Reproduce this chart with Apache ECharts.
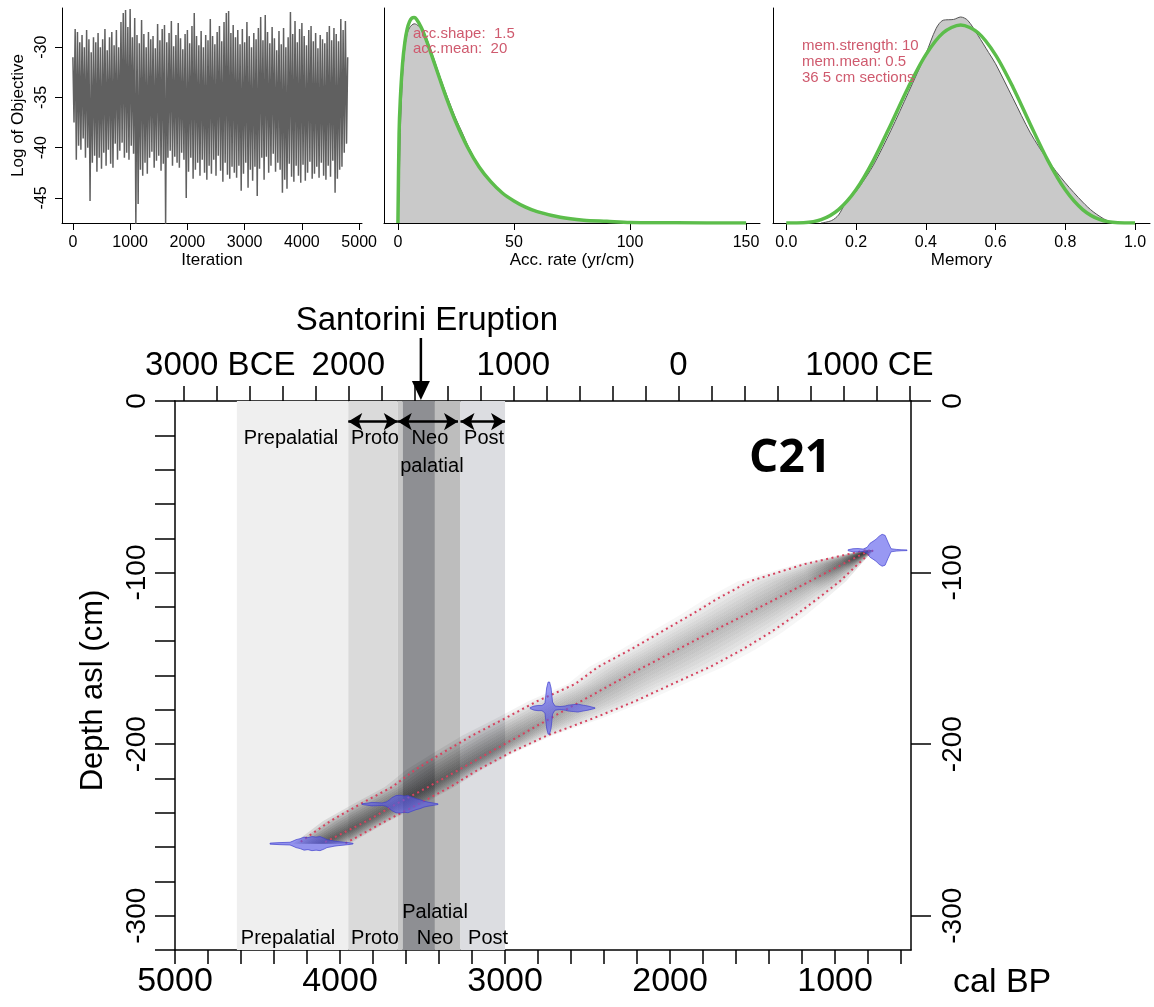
<!DOCTYPE html>
<html>
<head>
<meta charset="utf-8">
<title>C21 age-depth model</title>
<script src="https://cdn.jsdelivr.net/npm/echarts@6/dist/echarts.min.js"></script>
<style>
  html, body { margin: 0; padding: 0; background: #fff; }
  #chart { width: 1154px; height: 1007px; }
</style>
</head>
<body>
<div id="chart"></div>
<script>
const FONT = '"Liberation Sans", Arial, Helvetica, sans-serif';

const traceStep = 40;
const traceHigh = [
  -31, -28.2, -28.5, -29.5, -28.8, -30, -28.3, -29.2, -30.5, -29,
  -29.5, -28.6, -30, -29.2, -28.2, -30.3, -29, -28.5, -29.8, -28.3,
  -30, -27.5, -26.6, -26.3, -28, -26.2, -29, -27.1, -28.8, -29.6,
  -27.3, -28.7, -30, -28.5, -29.2, -28.9, -30.1, -27.7, -29.3, -28.2,
  -27.8, -29.5, -28.6, -27.4, -29.9, -28.8, -27.6, -29.1, -30.2, -28.7,
  -28.3, -29.6, -27.9, -26.6, -28.9, -29.8, -28.4, -30, -28.8, -29.3,
  -27.2, -28.9, -29.7, -28.5, -27.9, -29.4, -27.5, -26.6, -26.4, -28.6,
  -27.8, -29, -28.3, -29.7, -28.2, -29.5, -27.5, -28.9, -30, -28.6,
  -29.2, -28.1, -27, -29.3, -26.8, -28.5, -29.6, -28, -29.1, -30.3,
  -28.4, -29.7, -28.1, -30, -29, -26.5, -28.7, -27.4, -29.5, -28.2,
  -27.6, -28.9, -29.8, -28.3, -27.9, -29.4, -28.6, -30.1, -28.8, -29.2,
  -29.6, -28.5, -27.9, -29.3, -28.1, -28.7, -29.4, -27.2, -28.3, -27.4,
  -31
];
const traceLow = [
  -37.5, -41.2, -39.8, -40.2, -39.1, -41, -40, -45.3, -41.5, -40.8,
  -42.4, -41, -42.1, -40.5, -41.8, -40.2, -41.6, -42, -39.6, -41.2,
  -40.3, -39.5, -41, -40.5, -41.2, -39.8, -40.6, -47.6, -45.6, -42.2,
  -42.8, -41.5, -42.6, -41, -40.4, -42, -41.3, -40.8, -42.3, -41.6,
  -47.6, -41, -40.3, -41.8, -40.9, -41.5, -42, -40.5, -41.2, -45,
  -42.4, -41, -43.1, -42.2, -41.5, -42.8, -41.2, -42.5, -43.2, -41.8,
  -42.6, -41.2, -42.8, -40.8, -42.3, -43.4, -41.5, -42.7, -43.1, -41.9,
  -42.5, -43, -41.8, -44.3, -42.6, -41.5, -44, -42.2, -43.3, -41.9,
  -44.8, -42.1, -41, -43.2, -40.9, -42.5, -41.8, -40.6, -42.4, -41.5,
  -42.2, -44.5, -43.2, -44.1, -41.6, -42.9, -43.4, -41.8, -42.8, -43.5,
  -41.7, -43.3, -42.5, -41.4, -43.1, -42.6, -41.9, -43, -41.5, -42.8,
  -43.2, -41.8, -42.9, -41.3, -44.5, -43.1, -42.2, -41.9, -40.5, -39.6
];
const iterTicks = [0, 1000, 2000, 3000, 4000, 5000];
const objTicks = [-45, -40, -35, -30];

// ---- accumulation rate: prior (green) and posterior (grey) ----
const accX = [0, 0.5, 1, 2, 3, 4, 5, 6, 7, 8, 10, 12, 15, 18, 21, 25, 30, 35, 40, 45, 50, 55, 60, 70, 80, 90, 100, 120, 150];
const accPrior = [0, 0.0158, 0.0216, 0.0282, 0.0320, 0.0343, 0.0356, 0.0362, 0.0363, 0.0360, 0.0346, 0.0326, 0.0291, 0.0255, 0.0220, 0.0178, 0.0134, 0.0099, 0.0073, 0.0053, 0.0039, 0.0028, 0.0020, 0.0010, 0.0005, 0.0003, 0.0001, 0.00003, 0];
const accPostX = [0, 0.5, 1, 2, 3, 4, 5, 6, 7, 8, 10, 12, 15, 18, 21, 25, 28, 30, 35, 40, 45, 50, 55, 60, 70, 80, 90, 100, 120, 150];
const accPost = [0, 0.006, 0.016, 0.026, 0.031, 0.0335, 0.0345, 0.035, 0.0352, 0.0351, 0.0344, 0.033, 0.0296, 0.026, 0.0226, 0.0184, 0.0157, 0.0138, 0.0100, 0.0072, 0.0052, 0.0038, 0.0027, 0.0019, 0.001, 0.0005, 0.0002, 0.0001, 0, 0];
const accTicks = [0, 50, 100, 150];
const accNotes = ['acc.shape:  1.5', 'acc.mean:  20'];

// ---- memory: prior (green) and posterior (grey) ----
const memX = [0, 0.05, 0.1, 0.15, 0.2, 0.25, 0.3, 0.35, 0.4, 0.45, 0.5, 0.55, 0.6, 0.65, 0.7, 0.75, 0.8, 0.85, 0.9, 0.95, 1.0];
const memPrior = [0, 0.003, 0.041, 0.167, 0.413, 0.779, 1.225, 1.688, 2.090, 2.364, 2.461, 2.364, 2.090, 1.688, 1.225, 0.779, 0.413, 0.167, 0.041, 0.003, 0];
const memPostX = [0.10, 0.13, 0.15, 0.17, 0.19, 0.21, 0.25, 0.30, 0.35, 0.40, 0.43, 0.45, 0.48, 0.50, 0.52, 0.55, 0.58, 0.60, 0.65, 0.70, 0.75, 0.80, 0.85, 0.88, 0.92, 0.95];
const memPost = [0, 0.03, 0.1, 0.25, 0.34, 0.45, 0.72, 1.15, 1.62, 2.1, 2.42, 2.52, 2.53, 2.56, 2.52, 2.33, 2.12, 1.98, 1.55, 1.12, 0.78, 0.5, 0.26, 0.14, 0.03, 0];
const memTicks = [0, 0.2, 0.4, 0.6, 0.8, 1.0];
const memNotes = ['mem.strength: 10', 'mem.mean: 0.5', '36 5 cm sections'];

// ---- age-depth model (cal BP) ----
const modelDepth = [-87, -95, -105, -115, -125, -135, -145, -155, -165, -175, -185, -195, -205, -215, -225, -235, -245, -258];
const modelMean  = [790, 952, 1152, 1352, 1552, 1758, 1958, 2158, 2352, 2539, 2727, 2909, 3097, 3279, 3467, 3661, 3842, 4109];
const modelOld   = [815, 1182, 1515, 1709, 1879, 2061, 2242, 2436, 2576, 2806, 3000, 3200, 3376, 3545, 3685, 3879, 4061, 4255];
const modelYoung = [770, 861, 970, 1103, 1242, 1394, 1564, 1758, 1988, 2212, 2467, 2745, 2970, 3164, 3333, 3527, 3727, 3970];

// calibrated dates: ages (cal BP) and half height of the probability shape (cm)
const dateDepth = [-258, -235, -179, -87];
const date1Age  = [4424, 4364, 4303, 4285, 4267, 4242, 4218, 4194, 4170, 4145, 4121, 4097, 4079, 4061, 4036, 4012, 3982, 3952, 3921];
const date1Half = [0.3, 0.6, 0.8, 1.5, 2.3, 2.9, 3.8, 3.5, 4.1, 3.8, 4.1, 3.2, 2.3, 2.0, 1.5, 1.2, 0.9, 0.6, 0.2];
const date2Age  = [3867, 3836, 3806, 3776, 3745, 3721, 3703, 3685, 3661, 3636, 3612, 3588, 3564, 3539, 3515, 3491, 3467, 3436, 3406];
const date2Half = [0.2, 0.6, 1.0, 0.9, 0.7, 1.2, 2.3, 3.8, 5.0, 5.2, 4.7, 5.0, 4.1, 3.2, 2.6, 1.7, 1.2, 0.7, 0.2];
const date3Age  = [2848, 2824, 2800, 2776, 2758, 2748, 2739, 2730, 2721, 2712, 2697, 2667, 2636, 2618, 2588, 2558, 2527, 2497, 2473, 2455];
const date3Half = [0.3, 1.2, 1.5, 1.5, 2.9, 11.7, 15.2, 15.2, 11.7, 3.5, 1.2, 0.9, 1.2, 1.7, 2.0, 2.3, 1.7, 1.2, 0.6, 0.2];
const date4Age  = [921, 891, 861, 830, 806, 788, 770, 752, 733, 715, 697, 679, 661, 630, 600, 564];
const date4Half = [0.3, 0.9, 1.0, 0.7, 1.7, 4.1, 5.2, 6.4, 8.2, 9.3, 8.7, 4.7, 0.9, 0.5, 0.3, 0.2];
const dateAges = [date1Age, date2Age, date3Age, date4Age];
const dateHalf = [date1Half, date2Half, date3Half, date4Half];

// Minoan periods shaded behind the model (cal BP)
const bandStart = [4625, 3950, 3650, 3620, 3425, 3270];
const bandEnd   = [3950, 3650, 3620, 3425, 3270, 3000];
const bandColor = ['#efefef', '#dadada', '#c7c7c7', '#8e8f93', '#bdbdbd', '#dcdde1'];
const arrowStart = [3950, 3650, 3270];
const arrowEnd   = [3650, 3285, 3000];
const arrowDepth = -12;
const periodText  = ['Prepalatial', 'Proto', 'Neo', 'palatial', 'Post', 'Palatial', 'Prepalatial', 'Proto', 'Neo', 'Post'];
const periodBP    = [4297, 3788, 3455, 3443, 3127, 3424, 4315, 3788, 3424, 3103];
const periodDepth = [-22, -22, -22, -38, -22, -298, -313.5, -313.5, -313.5, -313.5];
const eruptionBP = 3510;
const eruptionText = 'Santorini Eruption';
const coreName = 'C21';
const coreNameAt = [1273, -34];

// axis ticks
const bpTicks = [600, 800, 1000, 1200, 1400, 1600, 1800, 2000, 2200, 2400, 2600, 2800, 3000, 3200, 3400, 3600, 3800, 4000, 4200, 4400, 4600, 4800, 5000];
const bpLabels = [1000, 2000, 3000, 4000, 5000];
const bpName = 'cal BP';
const calTicks = [-3000, -2800, -2600, -2400, -2200, -2000, -1800, -1600, -1400, -1200, -1000, -800, -600, -400, -200, 0, 200, 400, 600, 800, 1000, 1200, 1400];
const calLabelValues = [-3000, -2000, -1000, 0, 1000];
const calLabelText = ['3000 BCE', '2000', '1000', '0', '1000 CE'];
const depthTicks = [0, -20, -40, -60, -80, -100, -120, -140, -160, -180, -200, -220, -240, -260, -280, -300, -320];
const depthLabels = [0, -100, -200, -300];

// ---------- helpers ----------
const pairs = (xs, ys) => xs.map((x, i) => [x, ys[i]]);
const black = { color: '#000', width: 1 };
const plain = v => String(v);

function traceData() {
  const out = [];
  for (let i = 0; i < traceHigh.length; i++) {
    out.push([i * traceStep, traceHigh[i]]);
    if (i < traceLow.length) out.push([i * traceStep + traceStep / 2, traceLow[i]]);
  }
  return out;
}

function smallX(grid, min, max, ticks, name, fmt) {
  return {
    gridIndex: grid, type: 'value', min: min, max: max,
    axisLine: { show: true, onZero: false, lineStyle: black },
    axisTick: { show: true, length: 7, customValues: ticks, lineStyle: black },
    axisLabel: { customValues: ticks, fontSize: 16, color: '#000', fontFamily: FONT, margin: 12, hideOverlap: false, formatter: fmt || plain },
    splitLine: { show: false },
    name: name, nameLocation: 'middle', nameGap: 29,
    nameTextStyle: { fontSize: 17, color: '#000', fontFamily: FONT }
  };
}

function smallY(grid, min, max) {
  return {
    gridIndex: grid, type: 'value', min: min, max: max,
    axisLine: { show: true, onZero: false, lineStyle: black },
    axisTick: { show: false }, axisLabel: { show: false }, splitLine: { show: false }
  };
}

function lerpPt(a, b, f) {
  return [a[0] + (b[0] - a[0]) * f, a[1] + (b[1] - a[1]) * f];
}

// grey probability ribbon: nested bands around the mean, darker where the model is narrow
function renderRibbon(params, api) {
  const n = modelDepth.length;
  const mid = [], old = [], young = [];
  for (let i = 0; i < n; i++) {
    mid.push(api.coord([modelMean[i], modelDepth[i]]));
    old.push(api.coord([modelOld[i], modelDepth[i]]));
    young.push(api.coord([modelYoung[i], modelDepth[i]]));
  }
  const a = mid[n - 1], b = mid[0];
  const dx = b[0] - a[0], dy = b[1] - a[1], len2 = dx * dx + dy * dy;
  const stops = [];
  for (let i = n - 1; i >= 0; i--) {
    const t = ((mid[i][0] - a[0]) * dx + (mid[i][1] - a[1]) * dy) / len2;
    const w = Math.max(8, Math.abs(young[i][0] - old[i][0]));
    const alpha = Math.min(0.2, 0.12 * Math.pow(45 / w, 1.4));
    stops.push({ offset: Math.min(1, Math.max(0, t)), color: 'rgba(25,25,25,' + alpha.toFixed(3) + ')' });
  }
  const layers = 10, children = [];
  for (let k = layers; k >= 1; k--) {
    const f = 1.2 * k / layers;
    const pts = [];
    for (let i = 0; i < n; i++) pts.push(lerpPt(mid[i], old[i], f));
    for (let i = n - 1; i >= 0; i--) pts.push(lerpPt(mid[i], young[i], f));
    children.push({
      type: 'polygon', shape: { points: pts },
      style: { fill: new echarts.graphic.LinearGradient(a[0], a[1], b[0], b[1], stops, true) }
    });
  }
  return { type: 'group', children: children };
}

function renderDate(params, api) {
  const i = params.dataIndex;
  const ages = dateAges[i], half = dateHalf[i], d = dateDepth[i];
  const pts = [];
  for (let j = 0; j < ages.length; j++) pts.push(api.coord([ages[j], d + half[j]]));
  for (let j = ages.length - 1; j >= 0; j--) pts.push(api.coord([ages[j], d - half[j]]));
  return {
    type: 'polygon', shape: { points: pts },
    style: { fill: 'rgba(88,88,236,0.62)', stroke: 'rgba(62,62,205,0.85)', lineWidth: 0.8 }
  };
}

function calLabel(v) {
  const t = calLabelText[calLabelValues.indexOf(v)];
  if (t === undefined) return '';
  const parts = t.split(' ');
  if (parts.length > 1) {
    const pad = parts[1] === 'BCE' ? 'pb' : 'pc';
    return '{' + pad + '| }{n|' + parts[0] + '}{n| ' + parts[1] + '}';
  }
  return '{n|' + t + '}';
}

const dottedRed = (data, z) => ({
  type: 'line', xAxisIndex: 3, yAxisIndex: 3, data: data, z: z,
  showSymbol: false, symbol: 'none', silent: true,
  lineStyle: { color: '#d6425e', width: 2, type: [2, 3.5] }
});

const option = {
  animation: false,
  backgroundColor: '#fff',
  textStyle: { fontFamily: FONT },
  grid: [
    { left: 62, top: 8, width: 300, height: 215, outerBoundsMode: 'none' },
    { left: 384, top: 8, width: 376, height: 215, outerBoundsMode: 'none' },
    { left: 773, top: 8, width: 377, height: 215, outerBoundsMode: 'none' },
    { left: 175, top: 401, width: 736, height: 549, outerBoundsMode: 'none' }
  ],
  xAxis: [
    smallX(0, -190, 5050, iterTicks, 'Iteration'),
    smallX(1, -6, 156, accTicks, 'Acc. rate (yr/cm)'),
    smallX(2, -0.038, 1.043, memTicks, 'Memory', v => v.toFixed(1)),
    {
      gridIndex: 3, type: 'value', inverse: true, min: 540, max: 5000, position: 'bottom',
      axisLine: { show: true, onZero: false, lineStyle: { color: '#000', width: 1.5 } },
      axisTick: { show: true, length: 14, customValues: bpTicks, lineStyle: { color: '#000', width: 1.5 } },
      axisLabel: { customValues: bpLabels, fontSize: 34, color: '#000', margin: 15, hideOverlap: false, formatter: plain },
      splitLine: { show: false }
    },
    {
      gridIndex: 3, type: 'value', min: -3050, max: 1410, position: 'top',
      axisLine: { show: true, onZero: false, lineStyle: { color: '#000', width: 1.5 } },
      axisTick: { show: true, length: 15, customValues: calTicks, lineStyle: { color: '#000', width: 1.5 } },
      axisLabel: {
        customValues: calLabelValues, color: '#000', margin: 19, hideOverlap: false,
        formatter: calLabel,
        rich: { n: { fontSize: 33, color: '#000' }, pb: { width: 74 }, pc: { width: 52 } }
      },
      splitLine: { show: false }
    }
  ],
  yAxis: [
    {
      gridIndex: 0, type: 'value', min: -47.5, max: -26.1,
      axisLine: { show: true, onZero: false, lineStyle: black },
      axisTick: { show: true, length: 7, customValues: objTicks, lineStyle: black },
      axisLabel: { customValues: objTicks, rotate: 90, fontSize: 16, color: '#000', margin: 12, hideOverlap: false },
      splitLine: { show: false },
      name: 'Log of Objective', nameLocation: 'middle', nameGap: 35,
      nameTextStyle: { fontSize: 17, color: '#000' }
    },
    smallY(1, 0, 0.038),
    smallY(2, 0, 2.672),
    {
      gridIndex: 3, type: 'value', min: -320, max: 0, position: 'left',
      axisLine: { show: true, onZero: false, lineStyle: { color: '#000', width: 1.5 } },
      axisTick: { show: true, length: 20, customValues: depthTicks, lineStyle: { color: '#000', width: 1.5 } },
      axisLabel: { customValues: depthLabels, rotate: 90, fontSize: 28, color: '#000', margin: 24, hideOverlap: false },
      splitLine: { show: false },
      name: 'Depth asl (cm)', nameLocation: 'middle', nameGap: 66,
      nameTextStyle: { fontSize: 31, color: '#000', padding: [0, 30, 0, 0] }
    },
    {
      gridIndex: 3, type: 'value', min: -320, max: 0, position: 'right',
      axisLine: { show: true, onZero: false, lineStyle: { color: '#000', width: 1.5 } },
      axisTick: { show: true, length: 20, customValues: depthLabels, lineStyle: { color: '#000', width: 1.5 } },
      axisLabel: { customValues: depthLabels, rotate: 90, fontSize: 28, color: '#000', margin: 28, hideOverlap: false },
      splitLine: { show: false }
    }
  ],
  series: [
    {
      type: 'line', xAxisIndex: 0, yAxisIndex: 0, data: traceData(),
      showSymbol: false, symbol: 'none', lineStyle: { color: '#606060', width: 1.5 }
    },
    {
      type: 'line', xAxisIndex: 1, yAxisIndex: 1, data: pairs(accPostX, accPost),
      showSymbol: false, symbol: 'none', smooth: 0.3,
      lineStyle: { color: '#555', width: 1 }, areaStyle: { color: '#c9c9c9', opacity: 1 }
    },
    {
      type: 'line', xAxisIndex: 1, yAxisIndex: 1, data: pairs(accX, accPrior),
      showSymbol: false, symbol: 'none', smooth: 0.3, lineStyle: { color: '#5cbd4b', width: 3.5 }
    },
    {
      type: 'line', xAxisIndex: 2, yAxisIndex: 2, data: pairs(memPostX, memPost),
      showSymbol: false, symbol: 'none', smooth: 0.3,
      lineStyle: { color: '#555', width: 1 }, areaStyle: { color: '#c9c9c9', opacity: 1 }
    },
    {
      type: 'line', xAxisIndex: 2, yAxisIndex: 2, data: pairs(memX, memPrior),
      showSymbol: false, symbol: 'none', smooth: 0.3, lineStyle: { color: '#5cbd4b', width: 3.5 }
    },
    {
      // period shading
      type: 'line', xAxisIndex: 3, yAxisIndex: 3, data: [], silent: true,
      markArea: {
        silent: true,
        data: bandStart.map((s, i) => [
          { xAxis: s, yAxis: -320, itemStyle: { color: bandColor[i], opacity: 1 } },
          { xAxis: bandEnd[i], yAxis: 0 }
        ])
      }
    },
    {
      type: 'custom', xAxisIndex: 3, yAxisIndex: 3, z: 2, silent: true,
      renderItem: renderRibbon, data: [[modelMean[0], modelDepth[0]]]
    },
    dottedRed(pairs(modelOld, modelDepth), 3),
    dottedRed(pairs(modelYoung, modelDepth), 3),
    dottedRed(pairs(modelMean, modelDepth), 3),
    {
      // period arrows
      type: 'line', xAxisIndex: 3, yAxisIndex: 3, data: [], silent: true,
      markLine: {
        silent: true, symbol: ['arrow', 'arrow'], symbolSize: [13, 14],
        label: { show: false },
        lineStyle: { color: '#000', width: 2.5, type: 'solid' },
        data: arrowStart.map((s, i) => [
          { coord: [s, arrowDepth] }, { coord: [arrowEnd[i], arrowDepth] }
        ])
      }
    },
    {
      type: 'custom', xAxisIndex: 3, yAxisIndex: 3, z: 4, silent: true,
      renderItem: renderDate,
      data: dateDepth.map((d, i) => [dateAges[i][Math.floor(dateAges[i].length / 2)], d])
    }
  ]
};

const chart = echarts.init(document.getElementById('chart'));
chart.setOption(option);

// annotations placed from data coordinates
const toPx = (x, y, idx) => chart.convertToPixel({ xAxisIndex: idx, yAxisIndex: idx }, [x, y]);
const graphics = [];
const note = (p, t) => ({ type: 'text', x: p[0], y: p[1], z: 100, style: { text: t, fontSize: 15, fontFamily: FONT, fill: '#cf5a6e', align: 'left', verticalAlign: 'middle' } });
accNotes.forEach((t, i) => graphics.push(note(toPx(6.5, 0.0335 - i * 0.0028, 1), t)));
memNotes.forEach((t, i) => graphics.push(note(toPx(0.045, 2.2 - i * 0.2, 2), t)));
periodText.forEach((t, i) => {
  const p = toPx(periodBP[i], periodDepth[i], 3);
  graphics.push({ type: 'text', x: p[0], y: p[1], z: 100, style: { text: t, fontSize: 20, fontFamily: FONT, fill: '#000', align: 'center', verticalAlign: 'middle' } });
});
const cn = toPx(coreNameAt[0], coreNameAt[1], 3);
graphics.push({ type: 'text', x: cn[0], y: cn[1], z: 100, style: { text: coreName, fontSize: 46, fontWeight: 'bold', fontFamily: '"Open Sans", ' + FONT, fill: '#000', align: 'center', verticalAlign: 'middle' } });
const axEnd = toPx(540, -320, 3);
graphics.push({ type: 'text', x: axEnd[0] + 42, y: axEnd[1] + 33, z: 100, style: { text: bpName, fontSize: 34, fontFamily: FONT, fill: '#000', align: 'left', verticalAlign: 'middle' } });
const ex = toPx(eruptionBP, 0, 3)[0];
graphics.push({ type: 'line', z: 100, shape: { x1: ex, y1: 338, x2: ex, y2: 384 }, style: { stroke: '#000', lineWidth: 2.5 } });
graphics.push({ type: 'polygon', z: 100, shape: { points: [[ex - 9, 381], [ex + 9, 381], [ex, 400]] }, style: { fill: '#000' } });
graphics.push({ type: 'text', x: ex + 6, y: 321, z: 100, style: { text: eruptionText, fontSize: 33, fontFamily: FONT, fill: '#000', align: 'center', verticalAlign: 'middle' } });
chart.setOption({ graphic: graphics });
</script>
</body>
</html>
